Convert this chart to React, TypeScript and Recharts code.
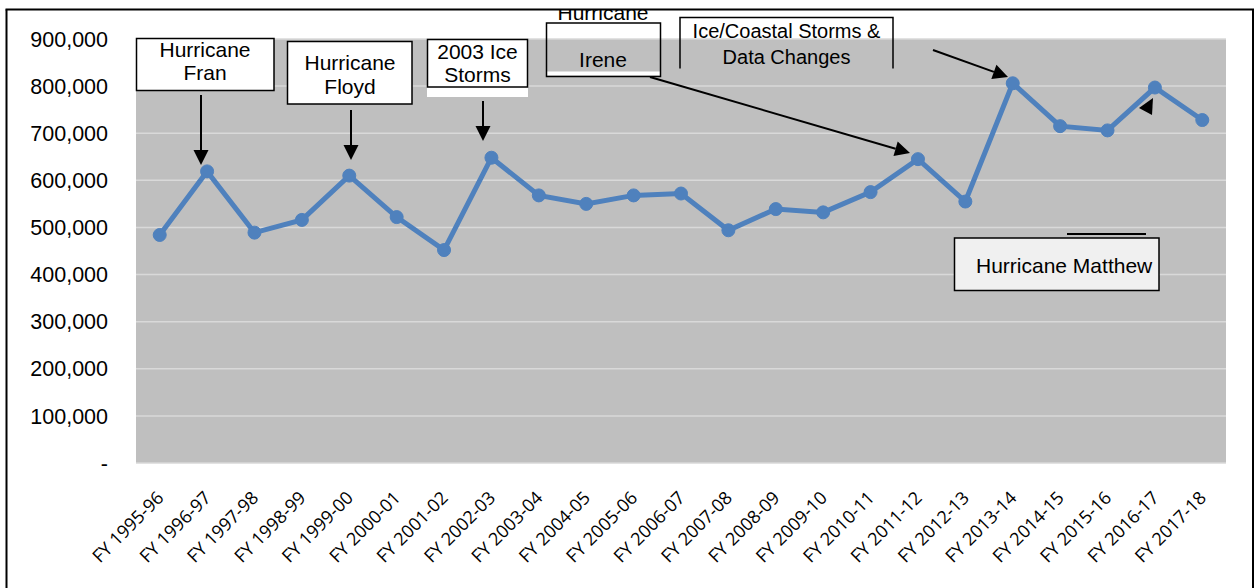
import React from 'react';
import { LineChart, Line, XAxis, YAxis, CartesianGrid } from 'recharts';

const categories = [
  'FY 1995-96', 'FY 1996-97', 'FY 1997-98', 'FY 1998-99', 'FY 1999-00', 'FY 2000-01',
  'FY 2001-02', 'FY 2002-03', 'FY 2003-04', 'FY 2004-05', 'FY 2005-06', 'FY 2006-07',
  'FY 2007-08', 'FY 2008-09', 'FY 2009-10', 'FY 2010-11', 'FY 2011-12', 'FY 2012-13',
  'FY 2013-14', 'FY 2014-15', 'FY 2015-16', 'FY 2016-17', 'FY 2017-18',
];
const values = [
  484000, 619000, 489000, 516000, 610000, 522000,
  452000, 648000, 568000, 550000, 568000, 572000,
  494000, 539000, 532000, 575000, 645000, 555000,
  806000, 715000, 706000, 797000, 728000,
];
const yTicks = [0, 100000, 200000, 300000, 400000, 500000, 600000, 700000, 800000, 900000];

const data = categories.map((fy, i) => ({ fy, value: values[i] }));

const ARIAL = '"Liberation Sans", Arial, sans-serif';

const fmtY = (v: number) => (v === 0 ? '-' : v.toLocaleString('en-US'));

const XTick = (props: any) => {
  const { x, y, payload } = props;
  const tx = x + 5;
  const ty = y + 36;
  return (
    <text
      x={tx}
      y={ty}
      textAnchor="end"
      transform={`rotate(-45, ${tx}, ${ty})`}
      fontFamily='"Open Sans", sans-serif'
      fontSize={18}
      fill="#000"
    >
      {payload.value}
    </text>
  );
};

function Arrow({ x1, y1, x2, y2 }: { x1: number; y1: number; x2: number; y2: number }) {
  const dx = x2 - x1;
  const dy = y2 - y1;
  const len = Math.sqrt(dx * dx + dy * dy);
  const ux = dx / len;
  const uy = dy / len;
  const hl = 15;
  const hw = 7.5;
  const bx = x2 - ux * hl;
  const by = y2 - uy * hl;
  const px = -uy;
  const py = ux;
  return (
    <g>
      <line x1={x1} y1={y1} x2={bx} y2={by} stroke="#000" strokeWidth={2} />
      <polygon
        points={`${x2},${y2} ${bx + px * hw},${by + py * hw} ${bx - px * hw},${by - py * hw}`}
        fill="#000"
      />
    </g>
  );
}

export default function App() {
  return (
    <div style={{ position: 'absolute', left: 0, top: 0, width: 1256, height: 588, background: '#fff', overflow: 'hidden' }}>
      <LineChart
        width={1256}
        height={588}
        data={data}
        margin={{ top: 39, right: 30, bottom: 0, left: 0 }}
      >
        <CartesianGrid
          vertical={false}
          horizontal={true}
          fill="#BFBFBF"
          stroke="#D9D9D9"
          strokeWidth={1.5}
        />
        <XAxis
          dataKey="fy"
          interval={0}
          tickLine={false}
          axisLine={false}
          tickSize={0}
          tickMargin={0}
          height={125}
          padding={{ left: 23.7, right: 23.7 }}
          tick={<XTick />}
        />
        <YAxis
          width={136}
          domain={[0, 900000]}
          ticks={yTicks}
          tickFormatter={fmtY}
          tickLine={false}
          axisLine={false}
          tickSize={0}
          tickMargin={28}
          tick={{ fill: '#000', fontSize: 21.5, fontFamily: ARIAL }}
        />
        <Line
          type="linear"
          dataKey="value"
          stroke="#4F81BD"
          strokeWidth={5}
          dot={{ r: 6.5, fill: '#4F81BD', stroke: '#4F81BD', strokeWidth: 1 }}
          isAnimationActive={false}
        />
      </LineChart>

      <svg
        width={1256}
        height={588}
        style={{ position: 'absolute', left: 0, top: 0, pointerEvents: 'none' }}
        fontFamily={ARIAL}
        fontSize={21}
      >
        {/* Hurricane Fran */}
        <rect x={136.5} y={38.5} width={137.5} height={52} fill="#fff" stroke="#000" strokeWidth={1.5} />
        <text x={205} y={56.5} textAnchor="middle" fill="#000">Hurricane</text>
        <text x={205} y={80} textAnchor="middle" fill="#000">Fran</text>
        <Arrow x1={201} y1={95} x2={201} y2={165} />

        {/* Hurricane Floyd */}
        <rect x={287.5} y={41.5} width={124.5} height={62.5} fill="#fff" stroke="#000" strokeWidth={1.5} />
        <text x={350} y={70} textAnchor="middle" fill="#000">Hurricane</text>
        <text x={350} y={93.5} textAnchor="middle" fill="#000">Floyd</text>
        <Arrow x1={351} y1={110} x2={351} y2={160} />

        {/* 2003 Ice Storms */}
        <rect x={427} y={87} width={101} height={10} fill="#fff" />
        <rect x={427.5} y={39.5} width={100} height={47.5} fill="#fff" stroke="#000" strokeWidth={1.5} />
        <text x={477.5} y={58.5} textAnchor="middle" fill="#000">2003 Ice</text>
        <text x={477.5} y={81.5} textAnchor="middle" fill="#000">Storms</text>
        <Arrow x1={483} y1={101} x2={483} y2={141} />

        {/* Hurricane Irene */}
        <text x={603} y={19.5} textAnchor="middle" fill="#000">Hurricane</text>
        <rect x={547} y={71.5} width={113} height={4} fill="#fff" />
        <rect x={546.5} y={23} width={114} height={53.5} fill="none" stroke="#000" strokeWidth={1.5} />
        <text x={603} y={66.5} textAnchor="middle" fill="#000">Irene</text>
        <Arrow x1={650} y1={77} x2={910} y2={153} />

        {/* Ice/Coastal Storms & Data Changes */}
        <polyline points="680,68.5 680,17.5 893,17.5 893,68.5" fill="none" stroke="#000" strokeWidth={1.5} />
        <text x={786.5} y={37.5} textAnchor="middle" fill="#000" fontSize={20}>Ice/Coastal Storms &amp;</text>
        <text x={786.5} y={64} textAnchor="middle" fill="#000" fontSize={20}>Data Changes</text>
        <Arrow x1={933} y1={50} x2={1008} y2={77} />

        {/* Hurricane Matthew */}
        <line x1={1067} y1={234} x2={1146} y2={234} stroke="#000" strokeWidth={2} />
        <rect x={954.5} y={238} width={204.5} height={52.5} fill="#F0F0F0" stroke="#000" strokeWidth={1.5} />
        <text x={976} y={272.5} textAnchor="start" fill="#000">Hurricane Matthew</text>
        <polygon points="1153,98 1139,108 1152,115" fill="#000" />

        {/* outer frame */}
        <rect x={0} y={0} width={1256} height={9} fill="#fff" />
        <line x1={5.5} y1={9.5} x2={1254} y2={9.5} stroke="#000" strokeWidth={2} />
        <line x1={6.5} y1={9.5} x2={6.5} y2={588} stroke="#000" strokeWidth={2} />
        <line x1={1253} y1={9.5} x2={1253} y2={588} stroke="#000" strokeWidth={2} />
      </svg>
    </div>
  );
}
